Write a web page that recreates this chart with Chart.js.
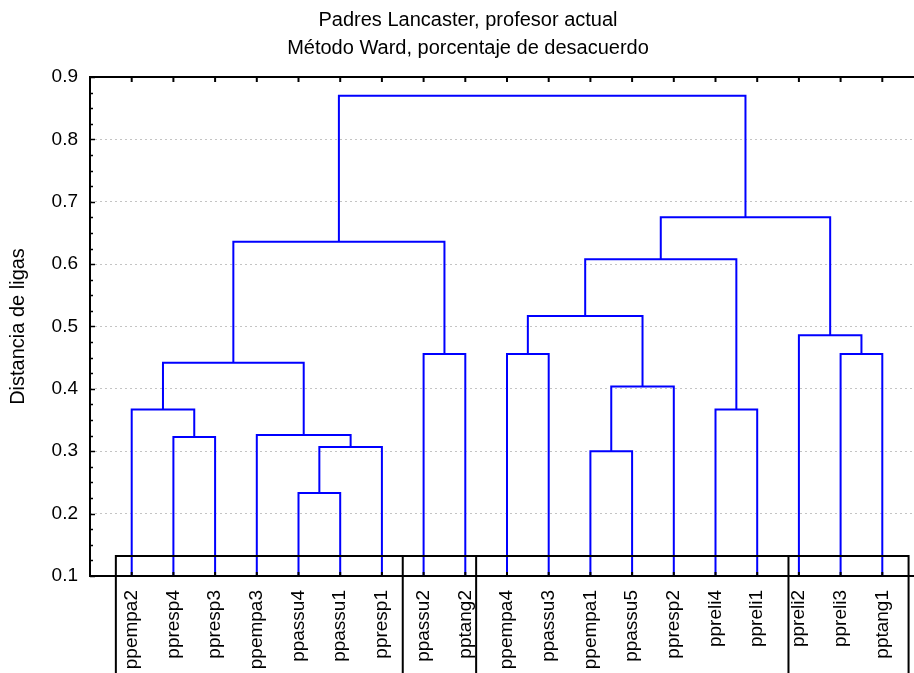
<!DOCTYPE html>
<html><head><meta charset="utf-8">
<script src="https://cdn.jsdelivr.net/npm/chart.js@4.4.1/dist/chart.umd.min.js"></script>
<style>
html,body{margin:0;padding:0;overflow:hidden;background:#fff;width:914px;height:673px}
#wrap{position:absolute;left:0;top:0;width:936px;height:673px}
</style>
</head><body><div id="wrap"><canvas id="c" width="936" height="673"></canvas></div>
<script>
// ---- data ----
const titleLines = ["Padres Lancaster, profesor actual", "Método Ward, porcentaje de desacuerdo"];
const yAxisTitle = "Distancia de ligas";
const leafLabels = ["ppempa2","ppresp4","ppresp3","ppempa3","ppassu4","ppassu1","ppresp1",
  "ppassu2","pptang2","ppempa4","ppassu3","ppempa1","ppassu5","ppresp2","ppreli4","ppreli1",
  "ppreli2","ppreli3","pptang1"];
// merges: a leaf label or "#k" (k-th merge)
const mergeLeft   = ["ppassu4","#0","ppempa3","ppresp4","ppempa2","#4","ppassu2","#5","ppempa1","#8","ppempa4","#10","ppreli4","#11","ppreli3","ppreli2","#13","#7"];
const mergeRight  = ["ppassu1","ppresp1","#1","ppresp3","#3","#2","pptang2","#6","ppassu5","ppresp2","ppassu3","#9","ppreli1","#12","pptang1","#14","#15","#16"];
const mergeHeight = [0.233,0.307,0.326,0.323,0.367,0.442,0.456,0.636,0.300,0.404,0.456,0.517,0.367,0.608,0.456,0.486,0.675,0.870];
const yMin = 0.1, yMax = 0.9, yStep = 0.1;

// ---- build ----
const FONT = "'Liberation Sans', Arial, Helvetica, sans-serif";
const nodes = [];
function pos(ref){
  if (ref[0] === '#') return nodes[parseInt(ref.slice(1),10)];
  return {x: leafLabels.indexOf(ref) + 1, y: yMin};
}
const datasets = [];
for (let k = 0; k < mergeHeight.length; k++){
  const a = pos(mergeLeft[k]), b = pos(mergeRight[k]), h = mergeHeight[k];
  nodes.push({x:(a.x+b.x)/2, y:h});
  datasets.push({
    data:[{x:a.x,y:a.y},{x:a.x,y:h},{x:b.x,y:h},{x:b.x,y:b.y}],
    showLine:true, borderColor:'#0000ff', borderWidth:2, pointRadius:0,
    fill:false, tension:0, borderJoinStyle:'miter', borderCapStyle:'butt'
  });
}

const framePlugin = {
  id:'frame',
  afterDatasetsDraw(chart, args, opts){
    const {ctx, chartArea:ca, scales:{x,y}} = chart;
    ctx.save();
    ctx.strokeStyle = '#000';
    ctx.lineWidth = 1.5;
    for (let v = yMin; v <= yMax + 1e-9; v += yStep/4){
      const py = Math.round(y.getPixelForValue(v)) + 0.5;
      const major = Math.abs((v - yMin)/yStep - Math.round((v - yMin)/yStep)) < 1e-6;
      ctx.beginPath(); ctx.moveTo(ca.left, py); ctx.lineTo(ca.left + (major ? 5 : 3), py); ctx.stroke();
    }
    ctx.lineWidth = 2;
    leafLabels.forEach((l,i)=>{
      const px = x.getPixelForValue(i+1);
      ctx.beginPath(); ctx.moveTo(px, ca.top); ctx.lineTo(px, ca.top + 5); ctx.stroke();
      ctx.beginPath(); ctx.moveTo(px, ca.bottom); ctx.lineTo(px, ca.bottom - 4); ctx.stroke();
    });
    ctx.lineWidth = 2;
    ctx.beginPath();
    ctx.moveTo(chart.width, ca.top); ctx.lineTo(ca.left, ca.top); ctx.lineTo(ca.left, ca.bottom); ctx.lineTo(chart.width, ca.bottom);
    ctx.stroke();
    const edges = opts.edges.map(e => x.getPixelForValue(e));
    const top = y.getPixelForValue(opts.boxTop);
    ctx.beginPath();
    ctx.moveTo(edges[0], chart.height + 5); ctx.lineTo(edges[0], top); ctx.lineTo(edges[edges.length-1], top); ctx.lineTo(edges[edges.length-1], chart.height + 5);
    for (let i = 1; i < edges.length - 1; i++){ ctx.moveTo(edges[i], top); ctx.lineTo(edges[i], chart.height + 5); }
    ctx.stroke();
    ctx.restore();
  }
};

new Chart(document.getElementById('c'), {
  type:'scatter',
  data:{datasets},
  plugins:[framePlugin],
  options:{
    responsive:false, animation:false, events:[],
    layout:{padding:{left:12,right:12,top:0,bottom:0}},
    plugins:{
      legend:{display:false}, tooltip:{enabled:false},
      title:{display:true, text:titleLines, color:'#000',
        font:{family:FONT, size:20, weight:'normal', lineHeight:1.4}, padding:{top:6,bottom:15}},
      frame:{edges:[0.62, 7.5, 9.26, 16.75, 19.63], boxTop:0.132}
    },
    scales:{
      x:{type:'linear', min:0, max:20,
        afterBuildTicks:(s)=>{ s.ticks = leafLabels.map((l,i)=>({value:i+1})); },
        afterFit:(s)=>{ s.height = 97; },
        ticks:{autoSkip:false, minRotation:90, maxRotation:90, padding:6, color:'#000',
          font:{family:FONT, size:19}, callback:(v)=>leafLabels[Math.round(v)-1]},
        grid:{display:false}, border:{display:false}
      },
      y:{min:yMin, max:yMax,
        afterFit:(s)=>{ s.width = 78; },
        ticks:{stepSize:yStep, padding:12, color:'#000', font:{family:FONT, size:19},
          callback:(v)=>Number(v).toFixed(1)},
        grid:{color:'#c4c4c4', lineWidth:1, drawTicks:false},
        border:{display:false, dash:[2,3]},
        title:{display:true, text:yAxisTitle, color:'#000', font:{family:FONT, size:20, lineHeight:0.6}, padding:{top:0,bottom:0}}
      }
    }
  }
});
</script>
</body></html>
